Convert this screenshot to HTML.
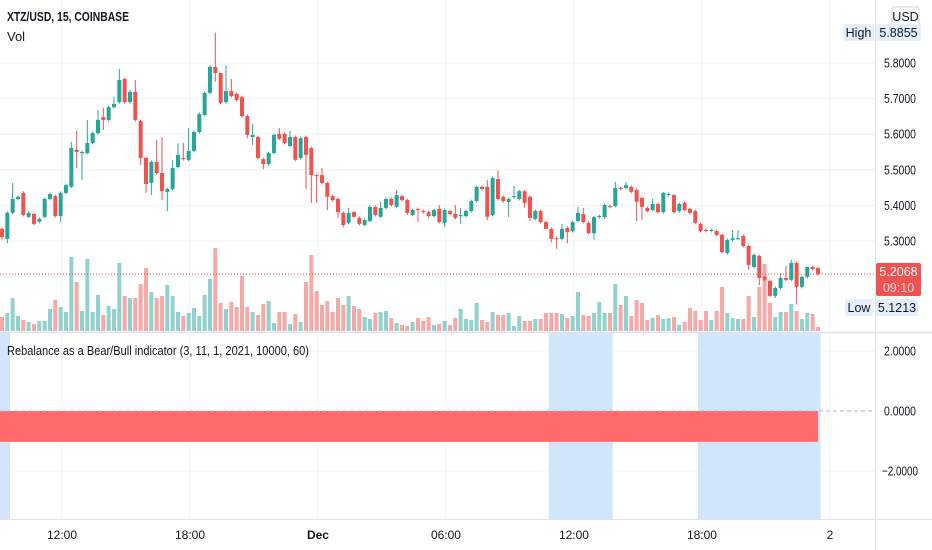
<!DOCTYPE html>
<html><head><meta charset="utf-8">
<style>
html,body{margin:0;padding:0;background:#fff;}
body{width:932px;height:550px;overflow:hidden;font-family:"Liberation Sans",sans-serif;}
svg{display:block;}
</style></head>
<body>
<svg id="chart" width="932" height="550" viewBox="0 0 932 550" xmlns="http://www.w3.org/2000/svg" font-family="'Liberation Sans', sans-serif">
  <rect x="0" y="0" width="932" height="550" fill="#ffffff"/>
  <g id="grid"></g>
  <g id="bands"></g>
  <g id="vol"></g>
  <g id="candles"></g>
  <g id="ind"></g>
  <g id="axes"></g>
  <text x="7" y="21" font-size="12.5" font-weight="bold" fill="#131722" textLength="122" lengthAdjust="spacingAndGlyphs">XTZ/USD, 15, COINBASE</text>
  <text x="7" y="41" font-size="13" fill="#131722">Vol</text>
  <text x="7" y="355" font-size="12.5" fill="#131722" textLength="302" lengthAdjust="spacingAndGlyphs">Rebalance as a Bear/Bull indicator (3, 11, 1, 2021, 10000, 60)</text>
</svg>
<script>
const opens=[5.334,5.306,5.379,5.418,5.435,5.368,5.376,5.354,5.368,5.418,5.426,5.370,5.435,5.452,5.556,5.547,5.547,5.575,5.603,5.648,5.640,5.676,5.690,5.755,5.690,5.719,5.637,5.533,5.463,5.522,5.491,5.438,5.446,5.508,5.533,5.528,5.553,5.606,5.654,5.716,5.789,5.772,5.690,5.721,5.713,5.704,5.651,5.592,5.592,5.530,5.516,5.547,5.601,5.601,5.567,5.592,5.533,5.592,5.561,5.485,5.485,5.463,5.426,5.418,5.379,5.351,5.381,5.365,5.345,5.356,5.396,5.368,5.393,5.418,5.396,5.426,5.415,5.373,5.390,5.384,5.381,5.370,5.390,5.351,5.384,5.376,5.370,5.370,5.384,5.412,5.452,5.452,5.373,5.474,5.424,5.410,5.424,5.418,5.440,5.424,5.362,5.384,5.353,5.334,5.308,5.306,5.337,5.328,5.356,5.376,5.351,5.322,5.367,5.367,5.398,5.398,5.449,5.449,5.452,5.443,5.421,5.393,5.387,5.404,5.381,5.429,5.429,5.384,5.407,5.390,5.384,5.348,5.331,5.328,5.328,5.317,5.266,5.303,5.306,5.314,5.286,5.227,5.258,5.199,5.188,5.146,5.168,5.196,5.191,5.238,5.171,5.199,5.227,5.224];
const closes=[5.311,5.379,5.418,5.424,5.373,5.379,5.348,5.362,5.418,5.432,5.370,5.435,5.457,5.561,5.550,5.550,5.575,5.603,5.640,5.640,5.676,5.685,5.752,5.690,5.719,5.640,5.533,5.460,5.522,5.491,5.440,5.446,5.505,5.542,5.530,5.553,5.606,5.657,5.716,5.789,5.772,5.688,5.721,5.707,5.696,5.651,5.598,5.598,5.533,5.516,5.547,5.598,5.587,5.575,5.592,5.528,5.589,5.542,5.485,5.482,5.463,5.424,5.415,5.381,5.345,5.379,5.368,5.348,5.359,5.396,5.373,5.393,5.418,5.401,5.429,5.415,5.379,5.387,5.387,5.381,5.370,5.387,5.353,5.387,5.376,5.365,5.373,5.384,5.412,5.452,5.446,5.368,5.477,5.418,5.412,5.418,5.426,5.440,5.407,5.365,5.384,5.353,5.334,5.306,5.306,5.334,5.325,5.353,5.379,5.353,5.322,5.367,5.370,5.401,5.396,5.449,5.446,5.457,5.438,5.410,5.396,5.384,5.404,5.381,5.435,5.432,5.381,5.404,5.387,5.379,5.351,5.328,5.328,5.331,5.317,5.269,5.303,5.308,5.308,5.286,5.233,5.261,5.196,5.191,5.146,5.168,5.196,5.191,5.238,5.171,5.199,5.227,5.221,5.2068];
const highs={3:5.463,5:5.440,14:5.578,15:5.609,17:5.640,19:5.668,20:5.674,22:5.705,23:5.783,25:5.724,26:5.752,30:5.584,31:5.592,33:5.528,34:5.575,35:5.575,36:5.617,40:5.794,41:5.8855,42:5.766,43:5.794,44:5.755,48:5.629,53:5.617,55:5.609,61:5.505,66:5.393,72:5.410,75:5.443,83:5.401,86:5.401,87:5.393,92:5.471,94:5.499,97:5.455,106:5.348,109:5.396,110:5.393,116:5.466,118:5.466,123:5.418,125:5.438,127:5.432,138:5.331,139:5.331,147:5.210,148:5.230,149:5.247,151:5.202,152:5.227,153:5.230};
const lows={1:5.303,2:5.294,12:5.353,15:5.505,16:5.471,20:5.612,27:5.514,28:5.435,29:5.429,31:5.415,32:5.384,41:5.747,47:5.589,48:5.570,50:5.502,58:5.446,59:5.407,60:5.407,62:5.387,64:5.365,65:5.339,70:5.353,77:5.373,79:5.353,84:5.339,87:5.348,92:5.359,96:5.367,99:5.393,100:5.356,103:5.342,104:5.296,105:5.278,107:5.294,112:5.303,120:5.356,121:5.359,141:5.219,143:5.176,145:5.143,146:5.140,150:5.1213};
const volumes=[14,18,33,15,11,9,7,10,10,22,31,24,19,74,49,20,72,19,36,16,25,22,68,35,33,33,47,63,39,33,35,46,35,19,15,18,23,15,36,52,83,28,22,29,24,55,24,19,16,27,30,8,19,19,7,17,9,49,76,40,26,30,19,33,26,35,25,22,14,12,18,19,20,13,8,6,5,9,13,10,14,6,7,10,6,13,22,12,11,28,11,9,19,16,16,18,5,15,10,10,12,12,18,18,18,17,13,15,39,16,15,18,29,18,18,47,26,35,15,31,28,11,13,16,12,13,14,6,9,23,20,11,20,11,20,44,18,13,12,12,35,14,44,67,28,14,19,19,27,20,12,18,17,4];
const priceTicks=[5.8,5.7,5.6,5.5,5.4,5.3];
const indTicks=[2,0,-2];
const bullBands=[[0,1],[103,114],[131,153]];
const signalValue=[-1.03];
const timeLabels=["12:00","18:00","Dec","06:00","12:00","18:00","2"];
const timeIdx=[11.25,35.25,59.25,83.25,107.25,131.25,155.25];
const lastPrice=5.2068, highPrice=5.8855, lowPrice=5.1213;

const NS="http://www.w3.org/2000/svg";
const GREEN="#26a69a", RED="#ef5350";
const xOf=i=>2+i*5.333;
const yP=p=>63+(5.8-p)*356;
const yI=v=>411-v*30;
const yV=v=>331-v*1.0;
function mk(tag,attrs,parent){const e=document.createElementNS(NS,tag);for(const k in attrs)e.setAttribute(k,attrs[k]);parent.appendChild(e);return e;}
const G=id=>document.getElementById(id);

const grid=G('grid');
timeIdx.forEach((t,k)=>{const l=mk('line',{x1:xOf(t),x2:xOf(t),y1:0,y2:519,stroke:'#f0f3fa','stroke-width':1},grid);

});
priceTicks.forEach(p=>{const l=mk('line',{x1:0,x2:875,y1:yP(p),y2:yP(p),stroke:'#f0f3fa','stroke-width':1},grid);

});
[2,-2].forEach(v=>{const l=mk('line',{x1:0,x2:875,y1:yI(v),y2:yI(v),stroke:'#f0f3fa','stroke-width':1},grid);

});

const bands=G('bands');
bullBands.forEach(b=>{const r=mk('rect',{x:Math.max(0,xOf(b[0])-2.67),y:333,width:xOf(b[1])+2.67-Math.max(0,xOf(b[0])-2.67),height:186,fill:'#d1e6fb'},bands);

});

const vol=G('vol');
volumes.forEach((v,i)=>{const up=closes[i]>=opens[i];
const r=mk('rect',{x:xOf(i)-2,y:yV(v),width:4,height:331-yV(v),fill:up?'rgba(38,166,154,0.5)':'rgba(239,83,80,0.5)'},vol);

});

const cg=G('candles');
opens.forEach((o,i)=>{const c=closes[i];const up=c>=o;const col=up?GREEN:RED;
const top=Math.max(o,c),bot=Math.min(o,c);
const h=highs[i+1]!==undefined?highs[i+1]:top+0.004;
const lo=lows[i+1]!==undefined?lows[i+1]:bot-0.004;
const w=mk('line',{x1:xOf(i),x2:xOf(i),y1:yP(h),y2:yP(lo),stroke:col,'stroke-width':1},cg);


const b=mk('rect',{x:xOf(i)-2,y:yP(top),width:4,height:Math.max(1,yP(bot)-yP(top)),fill:col},cg);

});

const lp=mk('line',{x1:0,x2:875,y1:yP(lastPrice),y2:yP(lastPrice),stroke:RED,'stroke-width':1,'stroke-dasharray':'1,2'},cg);



const ind=G('ind');
const sig=mk('rect',{x:0,y:yI(0),width:xOf(153),height:yI(signalValue[0])-yI(0),fill:'#ff6b6b'},ind);


const zl=mk('line',{x1:0,x2:875,y1:yI(0),y2:yI(0),stroke:'#b2b5be','stroke-width':1,'stroke-dasharray':'4,3'},ind);



const ax=G('axes');
const sep=mk('line',{x1:0,x2:932,y1:332.5,y2:332.5,stroke:'#e0e3eb','stroke-width':1.5},ax);


const bsep=mk('line',{x1:0,x2:932,y1:519.5,y2:519.5,stroke:'#e0e3eb','stroke-width':1},ax);


const vsep=mk('line',{x1:875.5,x2:875.5,y1:0,y2:550,stroke:'#e0e3eb','stroke-width':1},ax);


priceTicks.forEach(p=>{const t=mk('text',{x:884,y:yP(p)+4.5,'font-size':13,fill:'#131722',textLength:32,lengthAdjust:'spacingAndGlyphs'},ax);t.textContent=p.toFixed(4);

});
indTicks.forEach(v=>{const t=mk('text',{x:v<0?882:884,y:yI(v)+4.5,'font-size':13,fill:'#131722',textLength:v<0?36:32,lengthAdjust:'spacingAndGlyphs'},ax);t.textContent=(v<0?'\u2212':'')+Math.abs(v).toFixed(4);

});
timeLabels.forEach((s,k)=>{const t=mk('text',{x:xOf(timeIdx[k]),y:539,'font-size':12,'text-anchor':'middle',fill:'#131722','font-weight':s==='Dec'?'bold':'normal'},ax);t.textContent=s;

});

function badge(name,x,y,w,h,fill,txt,col,stroke){const g=mk('g',{},ax);


mk('rect',{x:x,y:y,width:w,height:h,rx:2,fill:fill,stroke:stroke||'none'},g);
const t=mk('text',{x:x+w/2,y:y+h/2+4.5,'font-size':12.5,'text-anchor':'middle',fill:col},g);t.textContent=txt;return g;}
const usd=badge('currency-button',892,7,27,19,'#ffffff','USD','#131722','#d1d4dc');

badge('high-label',843,24,31,17,'#e3effd','High','#131722');
badge('high-value',876,24,45,17,'#e3effd',highPrice.toFixed(4),'#131722');
badge('low-label',845,299,28,17,'#e3effd','Low','#131722');
badge('low-value',876,299,42,17,'#e3effd',lowPrice.toFixed(4),'#131722');
const lb=mk('g',{},ax);


mk('rect',{x:876,y:263,width:45,height:33,rx:2,fill:RED},lb);
const t1=mk('text',{x:898.5,y:276,'font-size':12.5,'text-anchor':'middle',fill:'#ffffff'},lb);t1.textContent=lastPrice.toFixed(4);
const t2=mk('text',{x:898.5,y:292,'font-size':12.5,'text-anchor':'middle',fill:'#ffd6d5'},lb);t2.textContent='09:10';
</script>
</body></html>
